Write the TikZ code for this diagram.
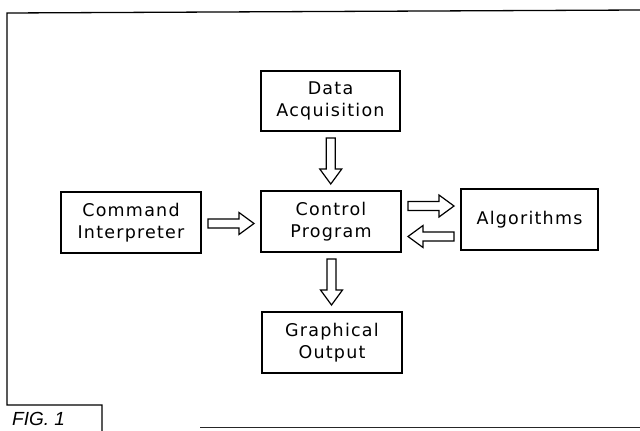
\documentclass[tikz,border=0pt]{standalone}
\usepackage{fontspec}
\setmainfont{DejaVu Sans}
\newfontfamily\plotfont[LetterSpace=7]{DejaVu Sans}
\newfontfamily\figfont{Liberation Sans}
\usetikzlibrary{calc}
\newcommand\hollowarrow[2]{%
  \path ($(#2)!15pt!(#1)$) coordinate (hb);
  \draw[blockarrow] ($(#1)!4.5pt!90:(#2)$) -- ($(hb)!4.5pt!90:(#2)$) -- ($(hb)!11pt!90:(#2)$) -- (#2)
     -- ($(hb)!11pt!-90:(#2)$) -- ($(hb)!4.5pt!-90:(#2)$) -- ($(#1)!4.5pt!-90:(#2)$) -- cycle;
}
\begin{document}
\begin{tikzpicture}[x=1pt,y=-1pt,
  blockbox/.style={draw, line width=1.9pt, inner sep=0pt, outer sep=0pt, align=center,
     font=\plotfont\fontsize{17.5}{22.5}\selectfont},
  blockarrow/.style={draw, line width=1.2pt, line join=miter, fill=white},
  frameline/.style={line width=1.3pt}]
\useasboundingbox (0,0) rectangle (640,431);
% frame
\draw[frameline] (640,10) -- (7,13) -- (7,405) -- (102,405) -- (102,431);
\draw[frameline, black!85] (200,427.5) -- (640,427.5);
\node[anchor=base west, font=\figfont\itshape\fontsize{19}{19}\selectfont, inner sep=0pt] (fig) at (12,425) {FIG. 1};
% boxes
\node[blockbox, minimum width=139pt, minimum height=60pt] (da) at (330.5,101) {Data\\Acquisition};
\node[blockbox, minimum width=140pt, minimum height=61pt] (ci) at (131,222.5) {Command\\Interpreter};
\node[blockbox, minimum width=140pt, minimum height=61pt] (cp) at (331,221.5) {Control\\Program};
\node[blockbox, minimum width=137pt, minimum height=61pt] (al) at (529.5,219.5) {Algorithms};
\node[blockbox, minimum width=140pt, minimum height=61pt] (go) at (332,342.5) {Graphical\\Output};
% arrow anchor points
\coordinate (m1) at ($(da.south)!0.5!(cp.north)$);
\coordinate (a1s) at ($(m1)+(0,-23)$);
\coordinate (a1e) at ($(m1)+(0,23)$);
\coordinate (m2) at ($(ci.east)!0.5!(cp.west)+(0,1.5)$);
\coordinate (a2s) at ($(m2)+(-23,0)$);
\coordinate (a2e) at ($(m2)+(23,0)$);
\coordinate (m3) at ($(cp.east)!0.5!(al.west)+(0,-14.5)$);
\coordinate (a3s) at ($(m3)+(-23,0)$);
\coordinate (a3e) at ($(m3)+(23,0)$);
\coordinate (m4) at ($(cp.east)!0.5!(al.west)+(0,16)$);
\coordinate (a4s) at ($(m4)+(23,0)$);
\coordinate (a4e) at ($(m4)+(-23,0)$);
\coordinate (m5) at ($(cp.south)!0.5!(go.north)$);
\coordinate (a5s) at ($(m5)+(0,-23)$);
\coordinate (a5e) at ($(m5)+(0,23)$);
\hollowarrow{a1s}{a1e}
\hollowarrow{a2s}{a2e}
\hollowarrow{a3s}{a3e}
\hollowarrow{a4s}{a4e}
\hollowarrow{a5s}{a5e}
\end{tikzpicture}
\end{document}
